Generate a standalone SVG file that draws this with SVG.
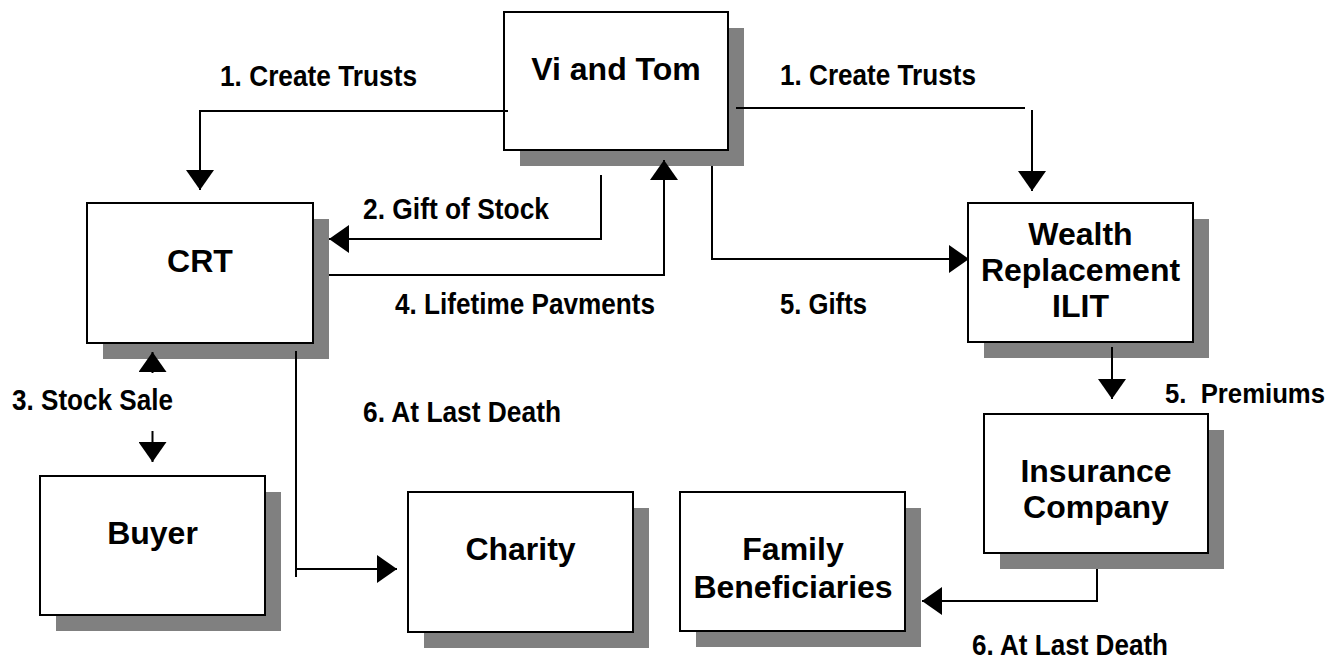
<svg xmlns="http://www.w3.org/2000/svg" width="1342" height="660" viewBox="0 0 1342 660">
<defs>
<style>
.shadow{fill:#808080;stroke:none}
.box{fill:#ffffff;stroke:#000000;stroke-width:2}
.node{font-family:"Liberation Sans",Arial,sans-serif;font-weight:bold;font-size:32px;fill:#000;text-anchor:middle}
.lbl{font-family:"Liberation Sans",Arial,sans-serif;font-weight:bold;font-size:29px;fill:#000;white-space:pre}
.conn{fill:none;stroke:#000;stroke-width:2}
</style>
<marker id="arr" viewBox="0 0 20 28" refX="20" refY="14" markerWidth="20" markerHeight="28" markerUnits="userSpaceOnUse" orient="auto">
<path d="M0,0 L20,14 L0,28 Z" fill="#000"/>
</marker>
</defs>
<rect width="1342" height="660" fill="#ffffff"/>
<g id="vi-and-tom">
<rect class="shadow" x="520" y="28" width="224" height="138"/>
<rect class="box" x="504" y="12" width="224" height="138"/>
<text class="node" x="616" y="80">Vi and Tom</text>
</g>
<g id="crt">
<rect class="shadow" x="103" y="219" width="226" height="140"/>
<rect class="box" x="87" y="203" width="226" height="140"/>
<text class="node" x="200" y="272">CRT</text>
</g>
<g id="ilit">
<rect class="shadow" x="984" y="219" width="225" height="139"/>
<rect class="box" x="968" y="203" width="225" height="139"/>
<text class="node" x="1080.5" y="245">Wealth</text>
<text class="node" x="1080.5" y="281">Replacement</text>
<text class="node" x="1080.5" y="317">ILIT</text>
</g>
<g id="buyer">
<rect class="shadow" x="56" y="492" width="225" height="139"/>
<rect class="box" x="40" y="476" width="225" height="139"/>
<text class="node" x="152.5" y="544">Buyer</text>
</g>
<g id="charity">
<rect class="shadow" x="424" y="508" width="225" height="140"/>
<rect class="box" x="408" y="492" width="225" height="140"/>
<text class="node" x="520.5" y="560">Charity</text>
</g>
<g id="family-beneficiaries">
<rect class="shadow" x="696" y="508" width="225" height="139"/>
<rect class="box" x="680" y="492" width="225" height="139"/>
<text class="node" x="793" y="560">Family</text>
<text class="node" x="793" y="598">Beneficiaries</text>
</g>
<g id="insurance-company">
<rect class="shadow" x="1000" y="430" width="224" height="139"/>
<rect class="box" x="984" y="414" width="224" height="139"/>
<text class="node" x="1096" y="482">Insurance</text>
<text class="node" x="1096" y="518">Company</text>
</g>
<g id="connectors">
<path class="conn" d="M508,111 H200 V190" marker-end="url(#arr)"/>
<path class="conn" d="M736,108 H1025"/>
<path class="conn" d="M1032,110 V191" marker-end="url(#arr)"/>
<path class="conn" d="M601,175 V239 H329" marker-end="url(#arr)"/>
<path class="conn" d="M329,275 H664 V160" marker-end="url(#arr)"/>
<path class="conn" d="M712,166 V259 H969" marker-end="url(#arr)"/>
<path class="conn" d="M1112,347 V399" marker-end="url(#arr)"/>
<path class="conn" d="M296,351 V577 M296,569 H397" marker-end="url(#arr)"/>
<path class="conn" d="M1097,569 V601 H922" marker-end="url(#arr)"/>
<path class="conn" d="M152.5,373 V352" marker-end="url(#arr)"/>
<path class="conn" d="M152.5,431 V462" marker-end="url(#arr)"/>
</g>
<g id="labels">
<text class="lbl" x="220" y="86" textLength="197" lengthAdjust="spacingAndGlyphs">1. Create Trusts</text>
<text class="lbl" x="780" y="85" textLength="196" lengthAdjust="spacingAndGlyphs">1. Create Trusts</text>
<text class="lbl" x="363" y="219" textLength="186" lengthAdjust="spacingAndGlyphs">2. Gift of Stock</text>
<text class="lbl" x="395" y="314" textLength="260" lengthAdjust="spacingAndGlyphs">4. Lifetime Pavments</text>
<text class="lbl" x="780" y="314" textLength="87" lengthAdjust="spacingAndGlyphs">5. Gifts</text>
<text class="lbl" x="12" y="410" textLength="161" lengthAdjust="spacingAndGlyphs">3. Stock Sale</text>
<text class="lbl" x="363" y="422" textLength="198" lengthAdjust="spacingAndGlyphs">6. At Last Death</text>
<text class="lbl" x="1165" y="403" font-size="27" style="font-size:27px" textLength="160" lengthAdjust="spacingAndGlyphs">5.  Premiums</text>
<text class="lbl" x="972" y="655" textLength="196" lengthAdjust="spacingAndGlyphs">6. At Last Death</text>
</g>
</svg>
